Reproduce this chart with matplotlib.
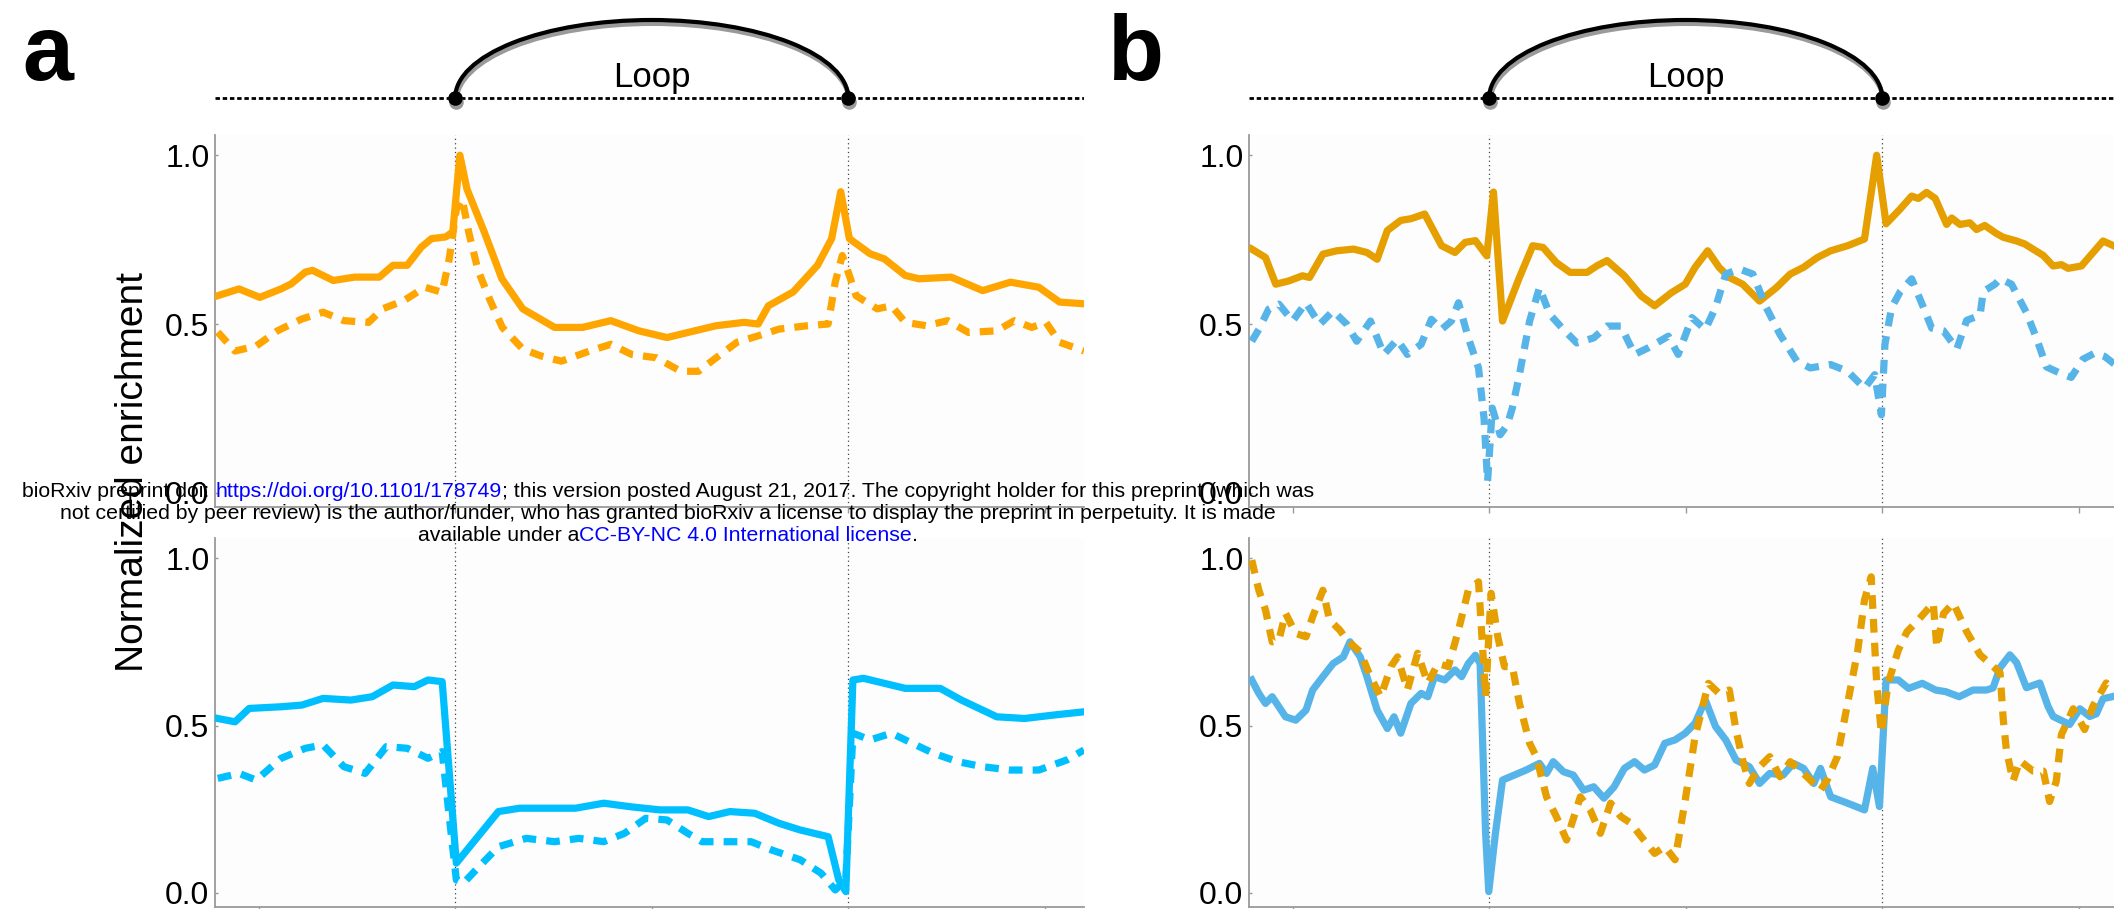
import matplotlib
matplotlib.use("Agg")
import matplotlib.pyplot as plt
from matplotlib.patches import Arc
from matplotlib import transforms

# ---------------- data ----------------
# x: position along the loop (anchors at 0 and 1), y: normalized enrichment
a_top_solid_x = [-0.604, -0.55, -0.497, -0.443, -0.417, -0.381, -0.363, -0.31, -0.256, -0.193, -0.158, -0.122, -0.086, -0.06, -0.024, -0.006, 0.012, 0.03, 0.074, 0.119, 0.172, 0.253, 0.324, 0.396, 0.467, 0.539, 0.61, 0.664, 0.735, 0.771, 0.797, 0.86, 0.922, 0.958, 0.981, 1.003, 1.056, 1.092, 1.145, 1.18, 1.262, 1.342, 1.413, 1.485, 1.538, 1.6]
a_top_solid_y = [0.584, 0.604, 0.579, 0.604, 0.619, 0.654, 0.659, 0.629, 0.639, 0.639, 0.674, 0.674, 0.728, 0.753, 0.758, 0.773, 1.0, 0.90, 0.773, 0.634, 0.545, 0.49, 0.49, 0.51, 0.48, 0.46, 0.48, 0.495, 0.505, 0.50, 0.554, 0.595, 0.674, 0.753, 0.892, 0.753, 0.708, 0.693, 0.644, 0.634, 0.639, 0.599, 0.624, 0.609, 0.565, 0.56]

a_top_dashed_x = [-0.604, -0.56, -0.506, -0.452, -0.39, -0.336, -0.283, -0.22, -0.185, -0.131, -0.077, -0.033, -0.015, 0.003, 0.018, 0.035, 0.058, 0.089, 0.12, 0.172, 0.217, 0.27, 0.342, 0.396, 0.449, 0.512, 0.574, 0.619, 0.664, 0.717, 0.771, 0.824, 0.896, 0.949, 0.967, 0.985, 1.003, 1.02, 1.074, 1.11, 1.145, 1.199, 1.253, 1.306, 1.378, 1.423, 1.467, 1.503, 1.538, 1.6]
a_top_dashed_y = [0.476, 0.42, 0.435, 0.48, 0.515, 0.535, 0.51, 0.505, 0.545, 0.569, 0.609, 0.594, 0.693, 0.84, 0.87, 0.77, 0.66, 0.57, 0.49, 0.426, 0.406, 0.39, 0.42, 0.44, 0.41, 0.40, 0.36, 0.36, 0.40, 0.446, 0.465, 0.485, 0.495, 0.50, 0.624, 0.703, 0.644, 0.584, 0.545, 0.554, 0.505, 0.495, 0.51, 0.475, 0.48, 0.51, 0.49, 0.505, 0.446, 0.42]

a_bot_solid_x = [-0.604, -0.56, -0.524, -0.443, -0.39, -0.336, -0.265, -0.211, -0.158, -0.104, -0.069, -0.033, 0.003, 0.03, 0.11, 0.164, 0.235, 0.306, 0.378, 0.449, 0.521, 0.592, 0.645, 0.699, 0.762, 0.824, 0.878, 0.949, 0.976, 0.994, 1.012, 1.039, 1.092, 1.145, 1.234, 1.288, 1.378, 1.449, 1.521, 1.6]
a_bot_solid_y = [0.521, 0.511, 0.551, 0.556, 0.561, 0.581, 0.576, 0.586, 0.621, 0.616, 0.636, 0.631, 0.089, 0.128, 0.243, 0.253, 0.253, 0.253, 0.268, 0.257, 0.248, 0.248, 0.228, 0.243, 0.238, 0.208, 0.188, 0.168, 0.039, 0.004, 0.636, 0.641, 0.626, 0.611, 0.611, 0.576, 0.526, 0.521, 0.531, 0.541]

a_bot_dashed_x = [-0.604, -0.55, -0.506, -0.443, -0.381, -0.336, -0.283, -0.229, -0.175, -0.122, -0.069, -0.033, -0.015, 0.003, 0.021, 0.057, 0.11, 0.181, 0.253, 0.315, 0.378, 0.431, 0.485, 0.539, 0.592, 0.628, 0.699, 0.753, 0.806, 0.878, 0.931, 0.967, 0.994, 1.012, 1.056, 1.11, 1.163, 1.217, 1.279, 1.342, 1.413, 1.485, 1.556, 1.6]
a_bot_dashed_y = [0.342, 0.357, 0.337, 0.402, 0.432, 0.442, 0.377, 0.357, 0.437, 0.432, 0.402, 0.422, 0.228, 0.039, 0.029, 0.074, 0.138, 0.163, 0.153, 0.163, 0.153, 0.178, 0.223, 0.218, 0.178, 0.153, 0.153, 0.153, 0.128, 0.099, 0.059, 0.009, 0.039, 0.477, 0.457, 0.477, 0.447, 0.417, 0.392, 0.377, 0.367, 0.367, 0.397, 0.427]

b_top_solid_x = [-0.604, -0.569, -0.543, -0.509, -0.475, -0.457, -0.423, -0.388, -0.345, -0.311, -0.285, -0.259, -0.225, -0.199, -0.164, -0.121, -0.087, -0.061, -0.035, -0.006, 0.011, 0.034, 0.077, 0.111, 0.137, 0.171, 0.206, 0.249, 0.275, 0.30, 0.344, 0.387, 0.421, 0.464, 0.499, 0.524, 0.556, 0.585, 0.611, 0.645, 0.688, 0.731, 0.766, 0.80, 0.835, 0.869, 0.912, 0.955, 0.986, 1.01, 1.046, 1.075, 1.092, 1.113, 1.135, 1.164, 1.177, 1.198, 1.223, 1.24, 1.261, 1.291, 1.308, 1.342, 1.363, 1.41, 1.435, 1.456, 1.473, 1.507, 1.524, 1.562, 1.6]
b_top_solid_y = [0.722, 0.697, 0.618, 0.628, 0.643, 0.638, 0.707, 0.717, 0.722, 0.712, 0.692, 0.777, 0.807, 0.812, 0.826, 0.732, 0.712, 0.742, 0.747, 0.702, 0.891, 0.509, 0.638, 0.732, 0.727, 0.682, 0.653, 0.653, 0.673, 0.688, 0.643, 0.583, 0.554, 0.593, 0.618, 0.668, 0.717, 0.668, 0.638, 0.618, 0.568, 0.608, 0.648, 0.668, 0.697, 0.717, 0.732, 0.752, 1.0, 0.797, 0.841, 0.879, 0.872, 0.89, 0.872, 0.795, 0.814, 0.795, 0.80, 0.78, 0.792, 0.768, 0.757, 0.746, 0.737, 0.703, 0.672, 0.676, 0.665, 0.672, 0.695, 0.746, 0.726]

b_top_dashed_x = [-0.604, -0.586, -0.561, -0.535, -0.50, -0.466, -0.431, -0.397, -0.362, -0.337, -0.302, -0.268, -0.234, -0.208, -0.173, -0.147, -0.121, -0.096, -0.078, -0.053, -0.027, -0.013, -0.004, 0.008, 0.028, 0.046, 0.059, 0.077, 0.103, 0.128, 0.154, 0.189, 0.223, 0.266, 0.30, 0.335, 0.37, 0.404, 0.456, 0.481, 0.516, 0.55, 0.576, 0.602, 0.637, 0.671, 0.705, 0.74, 0.783, 0.817, 0.869, 0.912, 0.955, 0.981, 0.998, 1.007, 1.024, 1.046, 1.075, 1.105, 1.126, 1.156, 1.19, 1.215, 1.249, 1.257, 1.287, 1.30, 1.329, 1.367, 1.393, 1.418, 1.448, 1.481, 1.511, 1.541, 1.566, 1.6]
b_top_dashed_y = [0.449, 0.484, 0.544, 0.559, 0.509, 0.563, 0.499, 0.539, 0.499, 0.449, 0.509, 0.41, 0.454, 0.41, 0.44, 0.514, 0.484, 0.509, 0.563, 0.459, 0.37, 0.221, 0.033, 0.251, 0.172, 0.201, 0.251, 0.35, 0.509, 0.608, 0.529, 0.484, 0.444, 0.459, 0.494, 0.494, 0.41, 0.429, 0.464, 0.41, 0.519, 0.484, 0.549, 0.648, 0.663, 0.648, 0.549, 0.469, 0.39, 0.37, 0.38, 0.36, 0.31, 0.35, 0.231, 0.44, 0.549, 0.596, 0.634, 0.549, 0.488, 0.48, 0.426, 0.511, 0.526, 0.596, 0.618, 0.634, 0.618, 0.534, 0.457, 0.373, 0.357, 0.342, 0.396, 0.414, 0.404, 0.373]

b_bot_solid_x = [-0.604, -0.586, -0.569, -0.552, -0.535, -0.518, -0.492, -0.466, -0.449, -0.423, -0.397, -0.371, -0.354, -0.328, -0.311, -0.285, -0.259, -0.242, -0.225, -0.199, -0.173, -0.156, -0.139, -0.113, -0.087, -0.07, -0.053, -0.035, -0.023, -0.009, -0.001, 0.016, 0.034, 0.094, 0.128, 0.146, 0.163, 0.189, 0.214, 0.24, 0.266, 0.292, 0.318, 0.344, 0.37, 0.395, 0.421, 0.447, 0.473, 0.499, 0.524, 0.55, 0.576, 0.602, 0.628, 0.662, 0.688, 0.714, 0.748, 0.774, 0.80, 0.826, 0.843, 0.869, 0.912, 0.955, 0.976, 0.993, 1.01, 1.041, 1.067, 1.102, 1.136, 1.162, 1.196, 1.231, 1.265, 1.282, 1.30, 1.325, 1.342, 1.367, 1.401, 1.422, 1.435, 1.477, 1.503, 1.528, 1.545, 1.562, 1.6]
b_bot_solid_y = [0.636, 0.596, 0.566, 0.586, 0.556, 0.526, 0.516, 0.546, 0.606, 0.646, 0.685, 0.705, 0.75, 0.705, 0.646, 0.546, 0.491, 0.526, 0.477, 0.566, 0.596, 0.586, 0.646, 0.636, 0.666, 0.646, 0.685, 0.71, 0.685, 0.178, 0.004, 0.178, 0.337, 0.367, 0.387, 0.357, 0.392, 0.362, 0.352, 0.307, 0.317, 0.283, 0.317, 0.372, 0.392, 0.367, 0.382, 0.447, 0.457, 0.477, 0.507, 0.576, 0.497, 0.457, 0.397, 0.377, 0.327, 0.357, 0.352, 0.387, 0.372, 0.327, 0.372, 0.287, 0.268, 0.248, 0.372, 0.258, 0.636, 0.636, 0.611, 0.626, 0.606, 0.601, 0.586, 0.606, 0.606, 0.612, 0.673, 0.711, 0.688, 0.613, 0.627, 0.557, 0.527, 0.503, 0.55, 0.527, 0.535, 0.58, 0.59]

b_bot_dashed_x = [-0.604, -0.586, -0.569, -0.552, -0.535, -0.518, -0.492, -0.466, -0.449, -0.423, -0.406, -0.38, -0.362, -0.328, -0.302, -0.276, -0.25, -0.233, -0.208, -0.182, -0.156, -0.13, -0.104, -0.078, -0.053, -0.027, -0.009, 0.005, 0.022, 0.039, 0.059, 0.077, 0.103, 0.12, 0.146, 0.171, 0.197, 0.232, 0.257, 0.283, 0.309, 0.335, 0.361, 0.387, 0.421, 0.447, 0.473, 0.499, 0.524, 0.558, 0.585, 0.611, 0.628, 0.645, 0.662, 0.688, 0.714, 0.74, 0.766, 0.791, 0.817, 0.843, 0.86, 0.886, 0.912, 0.938, 0.955, 0.972, 0.986, 0.998, 1.015, 1.041, 1.063, 1.088, 1.13, 1.139, 1.156, 1.181, 1.215, 1.249, 1.278, 1.30, 1.308, 1.316, 1.333, 1.35, 1.384, 1.41, 1.426, 1.443, 1.456, 1.486, 1.515, 1.536, 1.57, 1.6]
b_bot_dashed_y = [0.994, 0.904, 0.845, 0.75, 0.755, 0.835, 0.775, 0.765, 0.825, 0.904, 0.815, 0.785, 0.755, 0.72, 0.646, 0.586, 0.676, 0.705, 0.606, 0.716, 0.626, 0.685, 0.676, 0.785, 0.904, 0.929, 0.586, 0.895, 0.765, 0.676, 0.676, 0.566, 0.447, 0.407, 0.287, 0.228, 0.158, 0.287, 0.248, 0.178, 0.268, 0.228, 0.208, 0.168, 0.118, 0.138, 0.099, 0.278, 0.467, 0.626, 0.596, 0.606, 0.487, 0.397, 0.327, 0.377, 0.407, 0.347, 0.392, 0.367, 0.337, 0.307, 0.337, 0.407, 0.566, 0.725, 0.875, 0.944, 0.626, 0.477, 0.626, 0.725, 0.78, 0.81, 0.866, 0.733, 0.834, 0.866, 0.78, 0.711, 0.681, 0.657, 0.519, 0.427, 0.334, 0.395, 0.364, 0.364, 0.273, 0.334, 0.473, 0.55, 0.488, 0.557, 0.627, 0.597]

y_ticks = [0.0, 0.5, 1.0]
y_tick_labels = ["0.0", "0.5", "1.0"]
x_ticks = [-0.5, 0.0, 0.5, 1.0, 1.5]
anchors = [0.0, 1.0]
header_text = "Loop"
panel_labels = ["a", "b"]
ylabel_text = "Normalized enrichment"

ORANGE_A = "#FFA500"
BLUE_A = "#00BFFF"
ORANGE_B = "#E69F00"
BLUE_B = "#56B4E9"

# ---------------- layout ----------------
W, H = 2114, 909
fig = plt.figure(figsize=(W / 100, H / 100), dpi=100)
fig.patch.set_facecolor("white")
FONT = "Liberation Sans"

XLIM = (-0.611, 1.60)
YLIM = (-0.042, 1.06)
LW = 5.2
DASH = (1.9, 1.4)


def add_ax(left, top, bottom, width):
    return fig.add_axes([left / W, 1 - bottom / H, width / W, (bottom - top) / H])


def style(ax):
    ax.set_facecolor("#fdfdfd")
    ax.set_xlim(*XLIM)
    ax.set_ylim(*YLIM)
    for s in ("top", "right"):
        ax.spines[s].set_visible(False)
    for s in ("left", "bottom"):
        ax.spines[s].set_color("#9a9a9a")
        ax.spines[s].set_linewidth(1.3)
    ax.set_xticks(x_ticks)
    ax.set_xticklabels([])
    ax.tick_params(axis="x", direction="out", length=4, width=1, color="#9a9a9a")
    ax.set_yticks(y_ticks)
    ax.set_yticklabels(y_tick_labels, fontsize=23, family=FONT)
    ax.tick_params(axis="y", direction="in", length=2, width=1, color="#9a9a9a", pad=4)
    for a in anchors:
        ax.axvline(a, color="#444444", lw=0.9, dashes=(1, 2.5), zorder=1)


def header(left, width):
    hx = fig.add_axes([left / W, 1 - 130 / H, width / W, 130 / H])
    hx.set_xlim(*XLIM)
    hx.set_ylim(0, 130)
    hx.axis("off")
    hx.plot(XLIM, [32, 32], color="black", lw=2.0, dashes=(1.6, 1.0), solid_capstyle="butt")
    shadow = transforms.offset_copy(hx.transData, fig=fig, x=1.0, y=-3.5, units="dots")
    span = anchors[1] - anchors[0]
    mid = (anchors[0] + anchors[1]) / 2
    hx.add_patch(Arc((mid, 32), span, 156, theta1=0, theta2=180, color="#9a9a9a", lw=3.6, transform=shadow))
    hx.add_patch(Arc((mid, 32), span, 156, theta1=0, theta2=180, color="black", lw=3.0))
    hx.plot(anchors, [32, 32], "o", color="#9a9a9a", ms=10.5, mew=0, transform=shadow)
    hx.plot(anchors, [32, 32], "o", color="black", ms=10.5, mew=0)
    hx.text(mid, 43, header_text, ha="center", va="baseline", fontsize=25, family=FONT)


panels = [
    (215, (a_top_solid_x, a_top_solid_y, ORANGE_A), (a_top_dashed_x, a_top_dashed_y, ORANGE_A),
     (a_bot_solid_x, a_bot_solid_y, BLUE_A), (a_bot_dashed_x, a_bot_dashed_y, BLUE_A)),
    (1249, (b_top_solid_x, b_top_solid_y, ORANGE_B), (b_top_dashed_x, b_top_dashed_y, BLUE_B),
     (b_bot_solid_x, b_bot_solid_y, BLUE_B), (b_bot_dashed_x, b_bot_dashed_y, ORANGE_B)),
]
AX_W = 869
for left, ts, td, bs, bd in panels:
    ax_t = add_ax(left, 135, 507, AX_W)
    ax_b = add_ax(left, 538, 907, AX_W)
    style(ax_t)
    style(ax_b)
    for ax, sol, das in ((ax_t, ts, td), (ax_b, bs, bd)):
        ax.plot(sol[0], sol[1], color=sol[2], lw=LW, solid_joinstyle="round", zorder=3)
        ax.plot(das[0], das[1], color=das[2], lw=LW, dashes=DASH, dash_capstyle="butt", zorder=4)
    header(left, AX_W)

# panel letters
fig.text(22 / W, 1 - 80 / H, panel_labels[0], fontsize=66, fontweight="bold", family=FONT, va="baseline")
fig.text(1108 / W, 1 - 80 / H, panel_labels[1], fontsize=66, fontweight="bold", family=FONT, va="baseline")

# y label
fig.text(133 / W, 1 - 471.5 / H, ylabel_text, rotation=90, ha="center", va="center", fontsize=28, family=FONT)

# bioRxiv watermark
renderer = fig.canvas.get_renderer()
BLUE = "#0000FF"
WM_SIZE = 15.35
wm_lines = [
    (497, [("bioRxiv preprint doi: ", "black"), ("https://doi.org/10.1101/178749", BLUE),
           ("; this version posted August 21, 2017. The copyright holder for this preprint (which was", "black")]),
    (519, [("not certified by peer review) is the author/funder, who has granted bioRxiv a license to display the preprint in perpetuity. It is made", "black")]),
    (541, [("available under a", "black"), ("CC-BY-NC 4.0 International license", BLUE), (".", "black")]),
]
CENTER = 668


def text_width(s):
    t = fig.text(0, 0, s, fontsize=WM_SIZE, family=FONT)
    w = t.get_window_extent(renderer).width
    t.remove()
    return w


for base, pieces in wm_lines:
    full = "".join(p for p, _ in pieces)
    total = text_width(full)
    x0 = CENTER - total / 2
    prefix = ""
    for s, c in pieces:
        prefix += s
        if s.strip() == "":
            continue
        start = x0 + text_width(prefix) - text_width(s) if prefix != s else x0
        fig.text(start / W, 1 - base / H, s, color=c, fontsize=WM_SIZE, family=FONT,
                 va="baseline", ha="left", zorder=10)

fig.savefig("out.png", dpi=100, facecolor="white")
